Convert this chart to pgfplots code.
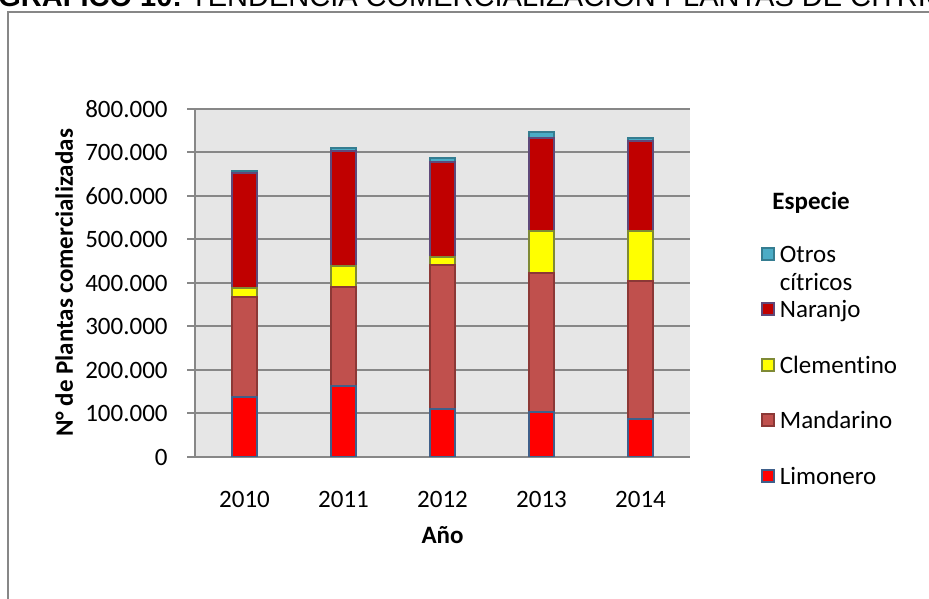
\documentclass[border=0pt]{standalone}
\usepackage{pgfplots}
\pgfplotsset{compat=1.18}
\usepackage{fontspec}
\setmainfont{Carlito}[Ligatures=CommonOff]
\newfontfamily\arialfont{Liberation Sans}
\definecolor{gridgray}{HTML}{878787}
\definecolor{plotbg}{HTML}{E6E6E6}
\definecolor{limfill}{HTML}{FF0000}
\definecolor{limdraw}{HTML}{3F5F8A}
\definecolor{manfill}{HTML}{C0504D}
\definecolor{mandraw}{HTML}{8C3836}
\definecolor{clefill}{HTML}{FFFF00}
\definecolor{cledraw}{HTML}{7F8A35}
\definecolor{narfill}{HTML}{C00000}
\definecolor{nardraw}{HTML}{5F497A}
\definecolor{otrfill}{HTML}{4BACC6}
\definecolor{otrdraw}{HTML}{357D91}
\begin{document}
\begin{tikzpicture}
\useasboundingbox (0,0) rectangle (464.5pt,299pt);
\node[anchor=base west, inner sep=0pt] at (-1pt,295.5pt) {\arialfont\fontsize{14.5}{17}\selectfont\bfseries GRAFICO 10:\mdseries\ TENDENCIA COMERCIALIZACION PLANTAS DE CITRICOS};
\draw[gridgray, line width=1pt] (3.75pt,-5pt) -- (3.75pt,293pt) -- (470pt,293pt);
\node[anchor=base west, inner sep=0pt] at (386pt,194pt) {\fontsize{12.5}{15}\selectfont\bfseries Especie};
\begin{axis}[
 at={(97.5pt,70.5pt)}, anchor=south west,
 scale only axis, width=247.5pt, height=174pt,
 ybar stacked, bar width=0.25,
 xmin=-0.5, xmax=4.5, ymin=0, ymax=800000,
 xtick={0,1,2,3,4}, xticklabels={2010,2011,2012,2013,2014},
 ytick={0,100000,200000,300000,400000,500000,600000,700000,800000},
 yticklabels={0,100.000,200.000,300.000,400.000,500.000,600.000,700.000,800.000},
 scaled y ticks=false,
 ymajorgrids, grid style={gridgray, line width=1pt},
 axis background/.style={fill=plotbg},
 axis x line*=bottom, axis y line*=left,
 axis line style={gridgray, line width=1pt, -},
 x tick style={draw=none},
 y tick style={gridgray, line width=1pt},
 tick align=outside, major tick length=4pt,
 tick label style={font=\fontsize{12.5}{15}\selectfont, inner sep=0pt},
 yticklabel style={xshift=-9.5pt},
 xticklabel style={yshift=-13pt},
 xlabel={\bfseries Año}, ylabel={\bfseries N° de Plantas comercializadas},
 label style={font=\fontsize{12.5}{15}\selectfont},
 xlabel style={at={(axis description cs:0.5,0)}, anchor=base, yshift=-43pt},
 ylabel style={at={([xshift=-61pt]axis description cs:0,0.5)}, anchor=base},
 reverse legend,
 legend cell align=left,
 legend image code/.code={\draw[#1, line width=1pt] (0.5pt,-1.5pt) rectangle (6.5pt,4.5pt);},
 legend style={at={(1.1424,0.6072)}, anchor=north west, draw=none, fill=none,
   inner sep=0pt, column sep=2.5pt, row sep=17.25pt,
   font=\fontsize{12.5}{15}\selectfont,
   nodes={inner sep=0pt, text height=8pt, text depth=2.5pt}},
]
\addplot[fill=limfill, draw=limdraw, line width=1pt] coordinates {(0,138000) (1,163000) (2,111000) (3,103500) (4,88000)};
\addlegendentry{Limonero}
\addplot[fill=manfill, draw=mandraw, line width=1pt] coordinates {(0,229000) (1,228000) (2,330000) (3,319500) (4,316000)};
\addlegendentry{Mandarino}
\addplot[fill=clefill, draw=cledraw, line width=1pt] coordinates {(0,21000) (1,49000) (2,19000) (3,97000) (4,115000)};
\addlegendentry{Clementino}
\addplot[fill=narfill, draw=nardraw, line width=1pt] coordinates {(0,266000) (1,264000) (2,217000) (3,213000) (4,207000)};
\addlegendentry{Naranjo}
\addplot[fill=otrfill, draw=otrdraw, line width=1pt] coordinates {(0,4000) (1,5500) (2,11000) (3,14000) (4,8000)};
\addlegendentry{\rlap{\raisebox{-14.2pt}[0pt][0pt]{cítricos}}Otros}
\end{axis}
\end{tikzpicture}
\end{document}
